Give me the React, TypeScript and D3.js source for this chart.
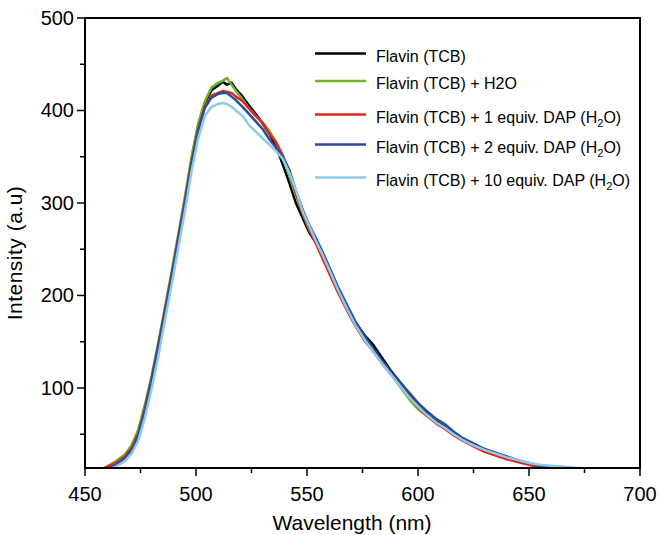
import * as d3 from "d3";

// wavelengths (nm), shared by every spectrum
const wavelengths = [
  457, 460, 464, 468, 471, 474, 477, 480, 483, 486,
  489, 492, 495, 498, 501, 504, 507, 510, 512, 514,
  516, 518, 521, 524, 527, 530, 533, 536, 539, 542,
  545, 548, 551, 554, 557, 560, 564, 568, 572, 576,
  580, 584, 588, 592, 596, 600, 604, 608, 612, 616,
  620, 625, 630, 635, 640, 645, 650, 655, 660, 665,
  670, 675,
];

const flavinTCB = [
  10, 13, 18, 25, 33, 49, 77, 109, 144, 183,
  221, 262, 303, 347, 384, 408, 422, 427, 431, 428,
  430, 423, 415, 405, 396, 386, 375, 362, 342, 322,
  300, 284, 268, 257, 244, 228, 207, 188, 170, 157,
  146, 132, 118, 106, 93, 81, 72, 64, 58, 50,
  44, 38, 32, 28, 24, 21, 18, 15, 13, 11,
  10, 9,
];

const flavinH2O = [
  11, 15, 21, 28, 38, 55, 82, 113, 149, 187,
  226, 266, 307, 350, 386, 410, 425, 430, 432, 435,
  428, 421, 412, 402, 394, 387, 378, 366, 349, 330,
  308, 289, 271, 258, 243, 226, 205, 185, 167, 152,
  140, 127, 114, 101, 88, 77, 70, 63, 57, 50,
  45, 39, 34, 29, 25, 21, 18, 15, 13, 11,
  10, 9,
];

const dap1 = [
  12, 15, 19, 26, 35, 51, 78, 110, 146, 184,
  222, 262, 302, 344, 380, 405, 416, 419, 421, 420,
  419, 415, 410, 402, 394, 387, 375, 366, 352, 335,
  310, 290, 272, 256, 240, 224, 203, 184, 166, 151,
  139, 126, 114, 103, 91, 79, 70, 62, 56, 49,
  43, 37, 31, 27, 23, 20, 17, 14, 12, 10,
  9, 8,
];

const dap2 = [
  9, 12, 17, 24, 33, 49, 76, 108, 144, 182,
  220, 260, 300, 342, 378, 403, 414, 418, 419, 419,
  415, 411, 404, 396, 388, 380, 369, 360, 350, 336,
  313, 293, 276, 262, 247, 231, 209, 190, 171, 156,
  142, 129, 117, 106, 95, 84, 75, 67, 61, 53,
  46, 40, 34, 30, 26, 22, 19, 16, 14, 12,
  11, 10,
];

const dap10 = [
  8, 11, 15, 21, 29, 43, 68, 99, 134, 173,
  211, 251, 291, 334, 370, 394, 404, 407, 408, 407,
  404, 400, 394, 384, 377, 370, 363, 356, 348, 333,
  314, 291, 275, 259, 244, 228, 206, 186, 167, 152,
  139, 126, 114, 102, 90, 80, 71, 63, 57, 50,
  44, 38, 33, 29, 25, 22, 19, 17, 16, 15,
  14, 13,
];

const seriesNames = [
  "Flavin (TCB)",
  "Flavin (TCB) + H2O",
  "Flavin (TCB) + 1 equiv. DAP (H2O)",
  "Flavin (TCB) + 2 equiv. DAP (H2O)",
  "Flavin (TCB) + 10 equiv. DAP (H2O)",
];
const seriesValues = [flavinTCB, flavinH2O, dap1, dap2, dap10];
const seriesColors = ["#000000", "#6cb424", "#e0281a", "#2b4c9c", "#8ecbea"];

const xMajor = [450, 500, 550, 600, 650, 700];
const xMinor = [475, 525, 575, 625, 675];
const yMajor = [100, 200, 300, 400, 500];
const yMinor = [50, 150, 250, 350, 450];

const W = 660;
const H = 535;
const left = 85;
const right = 640;
const top = 18;
const bottom = 468;
const font = "'Liberation Sans', Arial, sans-serif";

// renders "H2O" with a subscript 2
const legendLabel = (name: string) => {
  const m = name.match(/^(.*\(H)2(O\))$/);
  if (!m) return name;
  return (
    <>
      {m[1]}
      <tspan fontSize={11} dy={4}>2</tspan>
      <tspan dy={-4}>{m[2]}</tspan>
    </>
  );
};

export default function App() {
  const x = d3.scaleLinear().domain([450, 700]).range([left, right]);
  const y = d3.scaleLinear().domain([13.5, 500]).range([bottom, top]);

  const line = d3
    .line<number>()
    .x((_, i) => x(wavelengths[i]))
    .y((d) => y(d));

  const legendRows = [53.5, 81, 114.5, 144.5, 177.5];

  return (
    <svg
      width={W}
      height={H}
      style={{ position: "absolute", left: 0, top: 0, background: "#fff" }}
      fontFamily={font}
    >
      <defs>
        <clipPath id="plot">
          <rect x={left} y={top} width={right - left} height={bottom - top} />
        </clipPath>
      </defs>

      <g clipPath="url(#plot)" fill="none" strokeWidth={2.5} strokeLinejoin="round">
        {seriesValues.map((vals, i) => (
          <path key={i} d={line(vals) ?? ""} stroke={seriesColors[i]} />
        ))}
      </g>

      {/* frame */}
      <rect
        x={left}
        y={top}
        width={right - left}
        height={bottom - top}
        fill="none"
        stroke="#000"
        strokeWidth={2}
      />

      {/* ticks */}
      <g stroke="#000" strokeWidth={1.5}>
        {xMajor.map((v) => (
          <line key={v} x1={x(v)} x2={x(v)} y1={bottom} y2={bottom + 8} />
        ))}
        {xMinor.map((v) => (
          <line key={v} x1={x(v)} x2={x(v)} y1={bottom} y2={bottom + 5} />
        ))}
        {yMajor.map((v) => (
          <line key={v} x1={left - 8} x2={left} y1={y(v)} y2={y(v)} />
        ))}
        {yMinor.map((v) => (
          <line key={v} x1={left - 5} x2={left} y1={y(v)} y2={y(v)} />
        ))}
      </g>

      <g fontSize={20} fill="#000">
        {xMajor.map((v) => (
          <text key={v} x={x(v)} y={500.5} textAnchor="middle">
            {v}
          </text>
        ))}
        {yMajor.map((v) => (
          <text key={v} x={74} y={y(v) + 7} textAnchor="end">
            {v}
          </text>
        ))}
      </g>

      <text x={352} y={530} fontSize={21} textAnchor="middle">
        Wavelength (nm)
      </text>
      <text
        transform={`translate(22,253) rotate(-90)`}
        fontSize={21}
        letterSpacing={0.5}
        textAnchor="middle"
      >
        Intensity (a.u)
      </text>

      {/* legend */}
      <g fontSize={16}>
        {seriesNames.map((name, i) => (
          <g key={name} transform={`translate(315,${legendRows[i]})`}>
            <line x1={0} x2={51} y1={0} y2={0} stroke={seriesColors[i]} strokeWidth={2.5} />
            <text x={61} y={8}>
              {legendLabel(name)}
            </text>
          </g>
        ))}
      </g>
    </svg>
  );
}
